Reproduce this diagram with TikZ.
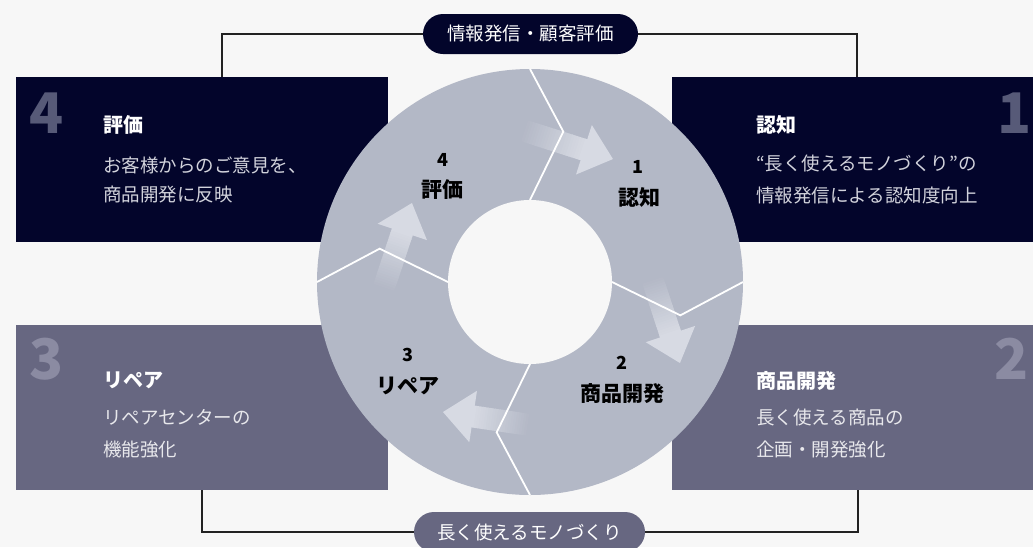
\documentclass[tikz,border=0pt]{standalone}
\usepackage{fontspec}
\setmainfont{Noto Sans CJK JP}
\usetikzlibrary{calc}
\definecolor{bg}{HTML}{F7F7F7}
\definecolor{navy}{HTML}{03052B}
\definecolor{slate}{HTML}{676781}
\definecolor{seg}{HTML}{B3B8C6}
\definecolor{arrl}{HTML}{D7DAE3}
\definecolor{numnavy}{HTML}{575A78}
\definecolor{numslate}{HTML}{8B8BA2}
\definecolor{bodyt}{HTML}{D2D3DC}
\definecolor{linec}{HTML}{222222}
% #1 tail point, #2 direction angle (canvas), #3 length
\newcommand\cyclearrow[3]{%
  \begin{scope}[transform canvas={shift={#1},rotate=#2}]
    \foreach \i in {0,...,23}{%
      \pgfmathtruncatemacro\pct{100*\i/23}%
      \fill[arrl!\pct!seg] ({(#3-30)*\i/24},11) rectangle ({(#3-30)*(\i+1)/24+0.7},-11);
    }
    \fill[arrl] (#3-30.5,26) -- (#3,0) -- (#3-30.5,-26) -- cycle;
  \end{scope}%
}
\tikzset{
  boxn/.style={inner sep=0pt, outer sep=0pt, minimum height=165pt, anchor=north west, draw=none},
  bignum/.style={font=\fontsize{56}{56}\bfseries, inner sep=0pt},
  ttl/.style={font=\fontsize{20}{24}\bfseries, text=white, anchor=west, inner sep=0pt},
  bodytxt/.style={font=\fontsize{18.5}{22}\selectfont, text=bodyt, anchor=west, inner sep=0pt},
  cnum/.style={font=\fontsize{18}{20}\bfseries, inner sep=0pt, text=black},
  clab/.style={font=\fontsize{21}{24}\bfseries, inner sep=0pt, text=black},
  pill/.style={rounded corners=20pt, minimum height=40pt, inner sep=0pt, text=white,
    font=\fontsize{18.5}{22}\selectfont},
  conn/.style={draw=linec, line width=1.2pt},
  divider/.style={draw=white, line width=1.8pt, line join=miter},
}
\begin{document}
\begin{tikzpicture}[x=1pt,y=-1pt]
\useasboundingbox (0,0) rectangle (1033,547);
\clip (0,0) rectangle (1033,547);
\fill[bg] (0,0) rectangle (1033,547);

% boxes
\node[boxn, fill=navy, minimum width=372pt] (box4) at (16,77) {};
\node[boxn, fill=navy, minimum width=361pt] (box1) at (672,77) {};
\node[boxn, fill=slate, minimum width=372pt] (box3) at (16,325) {};
\node[boxn, fill=slate, minimum width=361pt] (box2) at (672,325) {};

% pills
\node[pill, fill=navy, minimum width=215pt] (toppill) at (530.5,34) {情報発信・顧客評価};
\node[pill, fill=slate, minimum width=231pt] (botpill) at (529.5,532) {長く使えるモノづくり};

% connectors
\draw[conn] ([xshift=206pt]box4.north west) |- (toppill.west);
\draw[conn] (toppill.east) -| ([xshift=185pt]box1.north west);
\draw[conn] (box3.south) |- (botpill.west);
\draw[conn] (botpill.east) -| ([xshift=186pt]box2.south west);

% big numbers
\node[bignum, text=numnavy] (n4) at (47,113) {4};
\node[bignum, text=numnavy] (n1) at (1015,113) {1};
\node[bignum, text=numslate] (n3) at (47,359) {3};
\node[bignum, text=numslate] (n2) at (1012,359) {2};

% box texts
\node[ttl] (t4) at (103,125) {評価};
\node[bodytxt] (b4a) at (103,165) {お客様からのご意見を、};
\node[bodytxt] (b4b) at (103,195) {商品開発に反映};
\node[ttl] (t1) at (756,125) {認知};
\node[bodytxt] (b1a) at (756,163) {“長く使えるモノづくり”の};
\node[bodytxt] (b1b) at (756,195) {情報発信による認知度向上};
\node[ttl] (t3) at (103,380) {リペア};
\node[bodytxt, text=white!85!slate] (b3a) at (103,417) {リペアセンターの};
\node[bodytxt, text=white!85!slate] (b3b) at (103,450) {機能強化};
\node[ttl] (t2) at (756,381) {商品開発};
\node[bodytxt, text=white!85!slate] (b2a) at (756,417) {長く使える商品の};
\node[bodytxt, text=white!85!slate] (b2b) at (756,450) {企画・開発強化};

% ring
\coordinate (C) at (530,282);
\node[circle, fill=seg, minimum size=426pt, inner sep=0pt] (ring) at (C) {};
\node[circle, fill=bg, minimum size=164pt, inner sep=0pt] (hole) at (C) {};

% arrows (faded, clockwise)
\cyclearrow{(522,130)}{-17.7}{95.5}
\cyclearrow{(652,278)}{-71.8}{89.5}
\cyclearrow{(530,425)}{171.5}{88}
\cyclearrow{(383,290)}{71.6}{91.7}

% dividers
\draw[divider] ($(C)+(-90:213)$) -- ($(C)+(-77.5:154)$) -- ($(C)+(-90:82)$);
\draw[divider] ($(C)+(0:82)$) -- ($(C)+(12.5:154)$) -- ($(C)+(0:213)$);
\draw[divider] ($(C)+(90:82)$) -- ($(C)+(102.5:154)$) -- ($(C)+(90:213)$);
\draw[divider] ($(C)+(180:213)$) -- ($(C)+(192.5:154)$) -- ($(C)+(180:82)$);

% ring labels
\node[cnum] (c4n) at (443,160) {4};
\node[clab] (c4l) at (442,190) {評価};
\node[cnum] (c1n) at (638,167) {1};
\node[clab] (c1l) at (639,197) {認知};
\node[cnum] (c2n) at (622,363) {2};
\node[clab] (c2l) at (622,394) {商品開発};
\node[cnum] (c3n) at (408,355) {3};
\node[clab] (c3l) at (408,386) {リペア};
\end{tikzpicture}
\end{document}
